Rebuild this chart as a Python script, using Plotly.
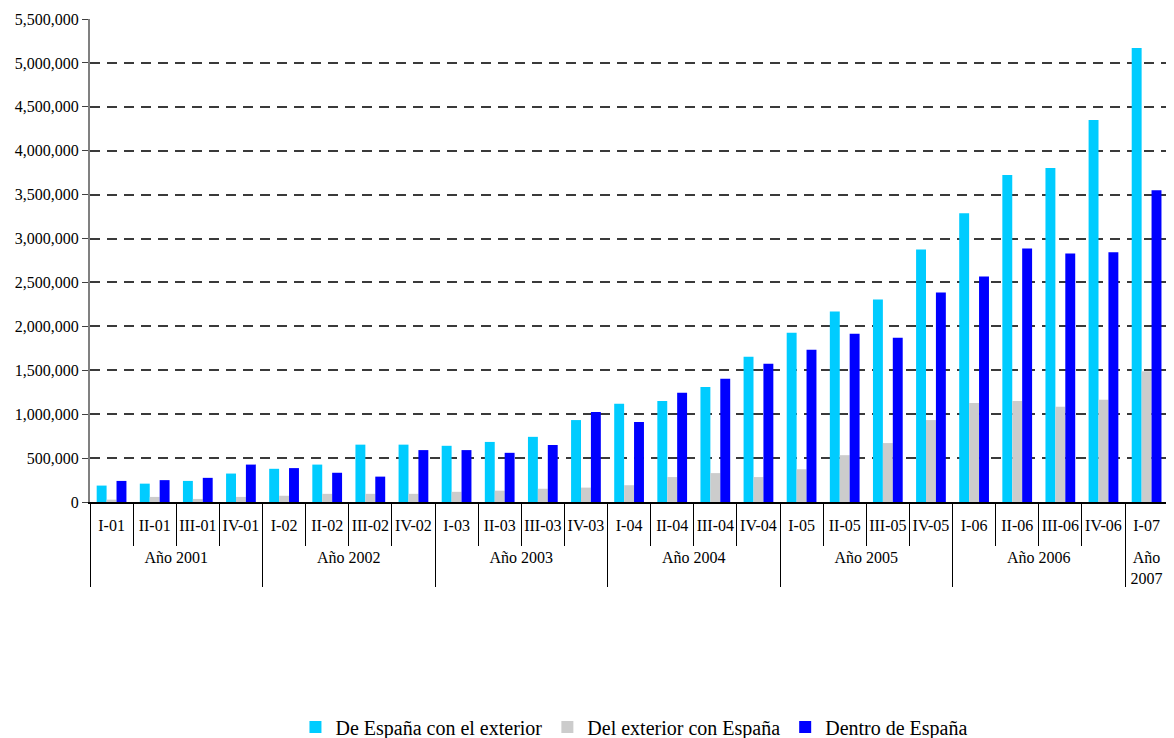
import plotly.graph_objects as go

years = ["<br>Año 2001"] * 4 + ["<br>Año 2002"] * 4 + ["<br>Año 2003"] * 4 + ["<br>Año 2004"] * 4 + \
        ["<br>Año 2005"] * 4 + ["<br>Año 2006"] * 4 + ["<br>Año<br>2007"]
quarters = ["I-01", "II-01", "III-01", "IV-01", "I-02", "II-02", "III-02", "IV-02",
            "I-03", "II-03", "III-03", "IV-03", "I-04", "II-04", "III-04", "IV-04",
            "I-05", "II-05", "III-05", "IV-05", "I-06", "II-06", "III-06", "IV-06", "I-07"]

de_espana_exterior = [187000, 209000, 240000, 324000, 378000, 426000, 653000, 653000,
                      640000, 684000, 742000, 933000, 1120000, 1151000, 1310000, 1653000,
                      1928000, 2168000, 2306000, 2874000, 3287000, 3723000, 3803000, 4349000, 5171000]
del_exterior_espana = [27000, 58000, 35000, 58000, 71000, 93000, 93000, 93000,
                       116000, 129000, 151000, 164000, 191000, 284000, 329000, 284000,
                       373000, 533000, 671000, 933000, 1128000, 1151000, 1084000, 1164000, 1488000]
dentro_espana = [240000, 249000, 275000, 426000, 386000, 333000, 289000, 591000,
                 591000, 560000, 649000, 1026000, 911000, 1244000, 1404000, 1573000,
                 1733000, 1915000, 1870000, 2386000, 2568000, 2888000, 2830000, 2843000, 3549000]

series = [
    ("De España con el exterior", de_espana_exterior, "#00CCFF"),
    ("Del exterior con España", del_exterior_espana, "#CCCCCC"),
    ("Dentro de España", dentro_espana, "#0000FF"),
]

fig = go.Figure()
for name, vals, color in series:
    fig.add_trace(go.Bar(x=[years, quarters], y=vals, name=name,
                         marker=dict(color=color, line=dict(width=0))))

font_family = "Liberation Serif, Times New Roman, serif"
# page body has an 8px default margin, so the figure is sized/offset to compensate
fig.update_layout(
    width=1158, height=730,
    margin=dict(l=82, r=0, t=11, b=236, autoexpand=False),
    paper_bgcolor="white", plot_bgcolor="white",
    barmode="group", bargap=0.31, bargroupgap=0,
    font=dict(family=font_family, size=16, color="black"),
    showlegend=True,
    legend=dict(orientation="h", x=0.506, xanchor="center", y=-0.466, yanchor="middle",
                font=dict(family=font_family, size=20, color="black"),
                itemwidth=30, tracegroupgap=0),
    xaxis=dict(type="multicategory", range=[-0.5, 24.45], automargin=False,
               showline=True, linecolor="black", linewidth=1.5,
               ticks="outside", ticklen=42, tickcolor="black", tickwidth=1.2,
               tickson="boundaries", tickangle=0, ticklabelstandoff=8,
               showdividers=True, dividercolor="black", dividerwidth=1.2,
               tickfont=dict(family=font_family, size=16, color="black"),
               showgrid=False, zeroline=False),
    yaxis=dict(range=[0, 5500000], dtick=500000, tickformat=",", automargin=False,
               showgrid=True, gridcolor="#3a3a3a", gridwidth=1.5, griddash="10px,7px",
               showline=True, linecolor="#808080", linewidth=2,
               ticks="outside", ticklen=6, tickcolor="#404040",
               zeroline=False,
               tickfont=dict(family=font_family, size=16, color="black")),
)

fig.write_html("out.html")
